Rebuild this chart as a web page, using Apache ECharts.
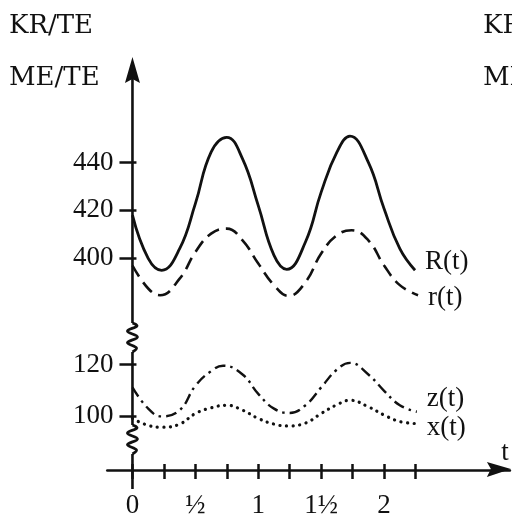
<!DOCTYPE html>
<html><head><meta charset="utf-8">
<script src="https://cdn.jsdelivr.net/npm/echarts@6/dist/echarts.min.js"></script>
<style>html,body{margin:0;padding:0;background:#fff}#c{width:512px;height:519px}</style>
</head><body><div id="c"></div>
<script>
// ---- data ----
const R_time = [0,0.125,0.232,0.375,0.5,0.625,0.749,0.875,1,1.125,1.226,1.375,1.5,1.625,1.729,1.875,2,2.125,2.246];
const R_vals = [418,400,395,404,422.8,444.3,450.5,441.5,422,401.2,395.4,406.8,427.6,444.3,451,440,420.7,404,395];
const r_time = [0,0.125,0.219,0.375,0.5,0.625,0.749,0.875,1,1.125,1.24,1.375,1.5,1.625,1.742,1.875,2,2.125,2.27];
const r_vals = [397,387.4,384.6,391.5,402.6,410.3,412.4,407.5,397.8,388.8,384.3,390,402,409.6,411.7,407.5,397,388.8,384.6];
const z_time = [0,0.125,0.232,0.375,0.5,0.625,0.72,0.875,1,1.125,1.25,1.375,1.5,1.625,1.73,1.875,2,2.125,2.26];
const z_vals = [111.2,103,100,102.4,111.8,117.5,119.6,116.2,108.7,103,101.3,104.3,111.2,118.1,120.7,116.2,109.9,104.3,101.8];
const x_time = [0,0.125,0.24,0.375,0.5,0.625,0.75,0.875,1,1.125,1.23,1.375,1.5,1.625,1.73,1.875,2,2.125,2.26];
const x_vals = [99.2,96.5,95.8,97,101.1,103.3,104.3,102.4,99.2,97,96.3,97.4,101.1,104.5,106.2,103.7,100.5,98,97.2];
const seriesNames = ['R(t)','r(t)','z(t)','x(t)'];
const xTickValues = [0,0.25,0.5,0.75,1,1.25,1.5,1.75,2,2.25];
const xLabelValues = [0,0.5,1,1.5,2];
const xTickLabels = ['0','½','1','1½','2'];
const yTopTicks = [400,420,440];
const yBottomTicks = [100,120];
const axisTitles = ['KR/TE','ME/TE'];
const xAxisName = 't';

const INK = '#111';
const FONT = 'Liberation Serif';
const pair = (ts, vs) => ts.map((t,i)=>[t, vs[i]]);

const chart = echarts.init(document.getElementById('c'), null, {renderer:'canvas'});
const GL = 107.3, GW = 402.6;
const xMin = -0.2, xMax = 3.0;
const yOff = -(0 - xMin) / (xMax - xMin) * GW;   // move y axes onto t = 0

function yAx(grid, min, max, ticks, inside) {
  return {
    type:'value', gridIndex:grid, min:min, max:max, position:'left', offset:yOff,
    axisLine:{show:false, onZero:false},
    splitLine:{show:false},
    axisTick:{show:true, inside:inside, length: inside?4:13, customValues:ticks, lineStyle:{color:INK,width:2.5}},
    axisLabel:{show:!inside, customValues:ticks, margin:19, color:INK, fontFamily:FONT, fontSize:27}
  };
}
function lineSeries(name, ts, vs, xi, yi, style, off) {
  return {
    type:'line', name:name, data:pair(ts, vs), xAxisIndex:xi, yAxisIndex:yi,
    smooth:0.45, showSymbol:false, symbol:'none', silent:true,
    lineStyle:Object.assign({color:INK, width:2.6}, style),
    endLabel:{show:true, formatter:name, color:INK, fontFamily:FONT, fontSize:27, distance:10, offset:off}
  };
}

const option = {
  animation:false,
  backgroundColor:'#fff',
  grid:[
    {left:GL, width:GW, top:57, height:266},
    {left:GL, width:GW, top:352, height:121}
  ],
  xAxis:[
    {type:'value', gridIndex:0, min:xMin, max:xMax, show:false},
    {type:'value', gridIndex:1, min:xMin, max:xMax, position:'bottom',
      axisLine:{show:true, onZero:false, lineStyle:{color:INK, width:2.6}},
      splitLine:{show:false},
      axisTick:{show:true, length:9, customValues:xTickValues, lineStyle:{color:INK,width:2.5}},
      axisLabel:{show:true, customValues:xLabelValues, margin:22, color:INK, fontFamily:FONT, fontSize:27,
        formatter:(v)=>{const i=xLabelValues.indexOf(v); return i>=0?xTickLabels[i]:'';}}},
    {type:'value', gridIndex:1, min:xMin, max:xMax, position:'bottom',
      axisLine:{show:false, onZero:false}, splitLine:{show:false},
      axisTick:{show:true, inside:true, length:6, customValues:xTickValues, lineStyle:{color:INK,width:2.5}},
      axisLabel:{show:false}}
  ],
  yAxis:[
    yAx(0, 373, 484, yTopTicks, false),
    yAx(0, 373, 484, yTopTicks, true),
    yAx(1, 79.25, 124.9, yBottomTicks, false),
    yAx(1, 79.25, 124.9, yBottomTicks, true)
  ],
  series:[
    lineSeries(seriesNames[0], R_time, R_vals, 0, 0, {type:'solid', width:2.8}, [0,-8]),
    lineSeries(seriesNames[1], r_time, r_vals, 0, 0, {type:[13,7], width:2.6}, [0,3]),
    lineSeries(seriesNames[2], z_time, z_vals, 1, 2, {type:[11,5,2.5,5], width:2.4}, [0,-13]),
    lineSeries(seriesNames[3], x_time, x_vals, 1, 2, {type:[0.1,6.5], width:3.2, cap:'round'}, [0,4])
  ]
};
chart.setOption(option);

// ---- axis decorations (y axis with breaks, arrows, titles) ----
const P = (g, xv, yv) => chart.convertToPixel({gridIndex:g}, [xv, yv]);
const tip = P(0, 0, 484);           // top of y axis
const ax = tip[0];
const gap1a = P(0, 0, 373)[1];      // bottom of top panel
const gap1b = P(1, 0, 124.9)[1];    // top of bottom panel
const xAxisY = P(1, 0, 79.25)[1];
const xEnd = P(1, xMax, 79.25)[0];
const gap2a = xAxisY - 45, gap2b = xAxisY - 16;

function zig(y0, y1) {
  const h = y1 - y0, pts = [[ax, y0]];
  const fr = [0.1, 0.28, 0.48, 0.68, 0.86];
  const dx = [4.5, -5, 5, -5, 4];
  fr.forEach((f,i)=>pts.push([ax+dx[i], y0+f*h]));
  pts.push([ax, y1]);
  return pts;
}
const lineStyle = {stroke:INK, lineWidth:2.6, fill:null};
const TFONT = '26px "DejaVu Serif"';
const graphics = [
  {type:'line', shape:{x1:ax, y1:tip[1]+20, x2:ax, y2:gap1a}, style:lineStyle},
  {type:'polyline', shape:{points:zig(gap1a, gap1b), smooth:0.4}, style:Object.assign({}, lineStyle, {lineWidth:2.8})},
  {type:'line', shape:{x1:ax, y1:gap1b, x2:ax, y2:gap2a}, style:lineStyle},
  {type:'polyline', shape:{points:zig(gap2a, gap2b), smooth:0.4}, style:Object.assign({}, lineStyle, {lineWidth:2.8})},
  {type:'line', shape:{x1:ax, y1:gap2b, x2:ax, y2:xAxisY+19}, style:lineStyle},
  {type:'polygon', shape:{points:[[ax, tip[1]], [ax-7.5, tip[1]+26], [ax, tip[1]+22], [ax+7.5, tip[1]+26]]}, style:{fill:INK}},
  {type:'polygon', shape:{points:[[xEnd+1, xAxisY-1], [xEnd-23, xAxisY-8], [xEnd-19, xAxisY-1], [xEnd-23, xAxisY+7]]}, style:{fill:INK}},
  {type:'text', x:xEnd-5, y:xAxisY-17, style:{text:xAxisName, fill:INK, font:'27px "'+FONT+'"', align:'center', verticalAlign:'middle'}},
  {type:'text', x:9, y:26, style:{text:axisTitles[0], fill:INK, font:TFONT, align:'left', verticalAlign:'middle'}},
  {type:'text', x:9, y:78, style:{text:axisTitles[1], fill:INK, font:TFONT, align:'left', verticalAlign:'middle'}},
  {type:'text', x:483, y:26, style:{text:axisTitles[0], fill:INK, font:TFONT, align:'left', verticalAlign:'middle'}},
  {type:'text', x:483, y:78, style:{text:axisTitles[1], fill:INK, font:TFONT, align:'left', verticalAlign:'middle'}}
];
chart.setOption({graphic:graphics.map(g=>Object.assign({z:100}, g))});
</script></body></html>
